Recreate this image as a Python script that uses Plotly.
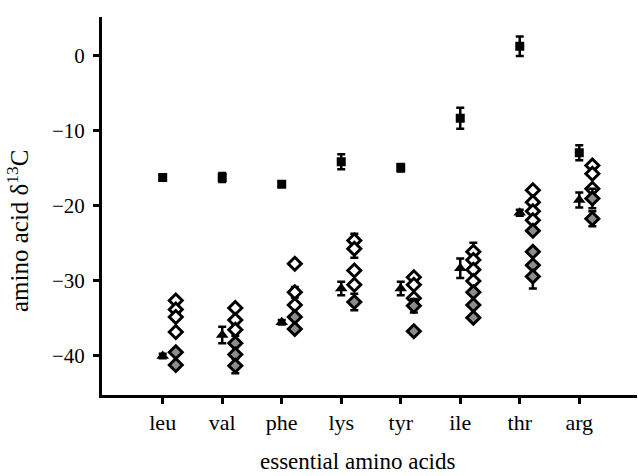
import plotly.graph_objects as go

amino_acids = ["leu", "val", "phe", "lys", "tyr", "ile", "thr", "arg"]

square_mean = [-16.3, -16.3, -17.2, -14.2, -15.0, -8.4, 1.2, -13.0]
square_err = [0.4, 0.6, 0.3, 1.0, 0.5, 1.4, 1.3, 1.0]

triangle_mean = [-40.1, -37.3, -35.6, -31.1, -31.1, -28.4, -21.0, -19.3]
triangle_err = [0.3, 1.1, 0.3, 0.9, 0.9, 1.3, 0.4, 1.0]

open_acid = ["leu", "leu", "leu", "leu",
             "val", "val", "val",
             "phe", "phe", "phe",
             "lys", "lys", "lys", "lys",
             "tyr", "tyr", "tyr",
             "ile", "ile", "ile", "ile",
             "thr", "thr", "thr", "thr",
             "arg", "arg", "arg"]
open_val = [-32.7, -33.9, -34.9, -36.9,
            -33.7, -35.3, -36.6,
            -27.8, -31.6, -33.3,
            -24.7, -25.8, -28.7, -30.6,
            -29.6, -30.6, -32.4,
            -26.2, -27.3, -28.6, -30.1,
            -18.0, -19.6, -20.8, -22.0,
            -14.7, -15.8, -17.8]
open_err = [0, 0, 0, 0,
            0, 0, 0.8,
            0, 0.7, 0,
            0.9, 1.2, 0, 0,
            0, 0, 0,
            1.2, 0, 0, 0,
            0, 0.5, 0, 0,
            0, 0, 0]

gray_acid = ["leu", "leu",
             "val", "val", "val",
             "phe", "phe",
             "lys",
             "tyr", "tyr",
             "ile", "ile", "ile",
             "thr", "thr", "thr", "thr",
             "arg", "arg"]
gray_val = [-39.6, -41.3,
            -38.4, -39.9, -41.4,
            -34.9, -36.5,
            -32.9,
            -33.4, -36.8,
            -31.6, -33.3, -35.0,
            -23.4, -26.2, -28.0, -29.5,
            -19.1, -21.8]
gray_err = [0, 0,
            0, 0, 1.0,
            0, 0,
            1.1,
            0.9, 0.4,
            0, 0, 0,
            0, 0, 0, 1.6,
            1.3, 1.0]

DIAMOND_OFFSET = 0.22
pos = {a: i for i, a in enumerate(amino_acids)}
x_main = list(range(len(amino_acids)))
x_open = [pos[a] + DIAMOND_OFFSET for a in open_acid]
x_gray = [pos[a] + DIAMOND_OFFSET for a in gray_acid]

FONT = "Liberation Serif, Times New Roman, serif"

def ebar(arr):
    return dict(type="data", array=arr, visible=True, color="black",
                thickness=2.5, width=4)

fig = go.Figure()
fig.add_trace(go.Scatter(
    x=x_main, y=square_mean, mode="markers", error_y=ebar(square_err),
    marker=dict(symbol="square", size=9, color="black"), showlegend=False))
fig.add_trace(go.Scatter(
    x=x_main, y=triangle_mean, mode="markers", error_y=ebar(triangle_err),
    marker=dict(symbol="triangle-up", size=11, color="black"), showlegend=False))
fig.add_trace(go.Scatter(
    x=x_open, y=open_val, mode="markers", error_y=ebar(open_err),
    marker=dict(symbol="diamond", size=10, color="white",
                line=dict(color="black", width=3)), showlegend=False))
fig.add_trace(go.Scatter(
    x=x_gray, y=gray_val, mode="markers", error_y=ebar(gray_err),
    marker=dict(symbol="diamond", size=10, color="#8c8c8c",
                line=dict(color="black", width=3)), showlegend=False))

fig.add_annotation(
    text="amino acid \u03b4<sup>13</sup>C", textangle=-90,
    xref="paper", yref="paper", x=-0.158, y=0.435,
    xanchor="center", yanchor="middle", showarrow=False,
    font=dict(family=FONT, size=25, color="black"))
fig.add_annotation(
    text="essential amino acids",
    xref="paper", yref="paper", x=0.4785, y=-0.177,
    xanchor="center", yanchor="middle", showarrow=False,
    font=dict(family=FONT, size=23, color="black"))

fig.update_layout(
    width=638, height=476,
    margin=dict(l=102, r=1, t=17, b=81, autoexpand=False),
    paper_bgcolor="white", plot_bgcolor="white",
    font=dict(family=FONT, size=22, color="black"),
    xaxis=dict(
        range=[-1.02, 7.97], tickmode="array", tickvals=x_main,
        ticktext=amino_acids, showgrid=False, zeroline=False,
        showline=True, linecolor="black", linewidth=3,
        ticks="outside", ticklen=6, tickwidth=3, tickcolor="black",
        tickfont=dict(family=FONT, size=22), automargin=False,
    ),
    yaxis=dict(
        range=[-45.3, 5.1], tickvals=[0, -10, -20, -30, -40],
        ticktext=["0", "\u221210", "\u221220", "\u221230", "\u221240"],
        showgrid=False, zeroline=False,
        showline=True, linecolor="black", linewidth=3,
        ticks="outside", ticklen=6, tickwidth=3, tickcolor="black",
        tickfont=dict(family=FONT, size=21), automargin=False,
        ticklabelstandoff=4,
    ),
)

fig.write_html("out.html", config={"displayModeBar": False},
               post_script="document.body.style.margin='0px';document.body.style.padding='0px';")
